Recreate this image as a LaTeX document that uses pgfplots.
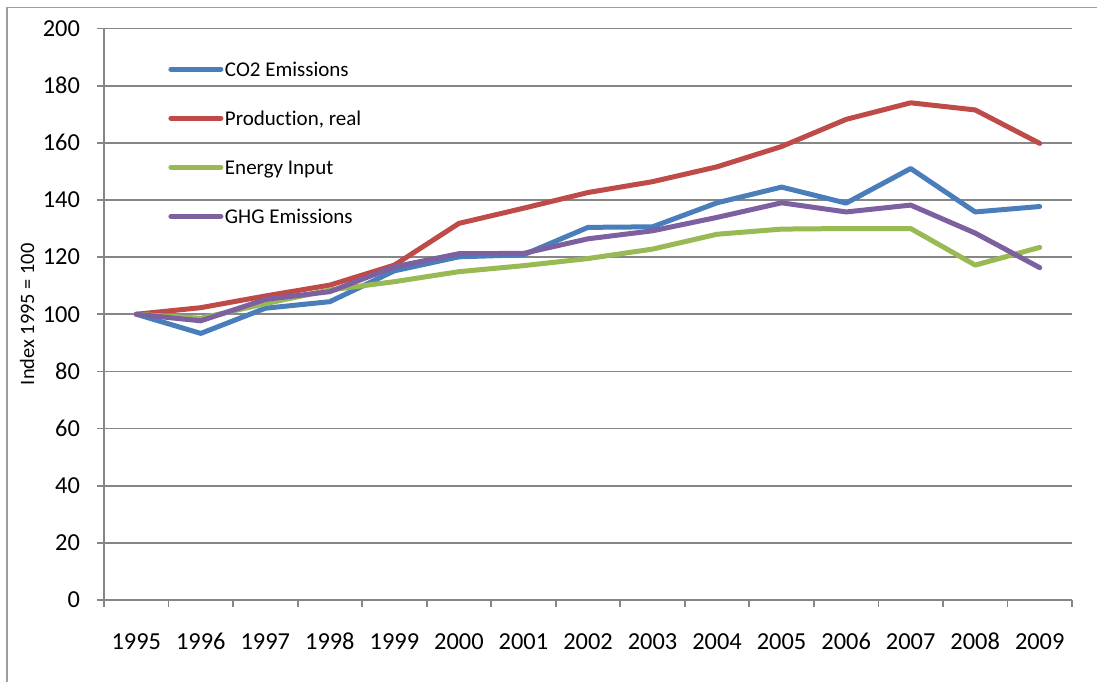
\documentclass[border=0pt]{standalone}
\usepackage{pgfplots}
\pgfplotsset{compat=1.18}
\usepackage{fontspec}
\setmainfont{Carlito}[Ligatures=NoCommon]

\definecolor{co2}{HTML}{4A7EBB}
\definecolor{prod}{HTML}{BE4B48}
\definecolor{energy}{HTML}{98B954}
\definecolor{ghg}{HTML}{7D60A0}
\definecolor{axgray}{HTML}{868686}

\begin{document}
\begin{tikzpicture}
  \begin{axis}[
      scale only axis,
      width=484pt, height=285.75pt,
      xmin=-0.5, xmax=14.5,
      ymin=0, ymax=200,
      axis x line=bottom, axis y line=left,
      axis line style={-, axgray, line width=0.9pt},
      xtick={0,...,14},
      xticklabels={1995,1996,1997,1998,1999,2000,2001,2002,2003,2004,2005,2006,2007,2008,2009},
      major x tick style={draw=none},
      minor xtick={-0.5,0.5,...,14.5},
      ytick={0,20,...,200},
      tick align=outside,
      major tick length=3.5pt, minor tick length=3.5pt,
      tick style={axgray, line width=0.9pt},
      ymajorgrids,
      grid style={axgray, line width=0.9pt},
      /pgf/number format/assume math mode=true,
      ticklabel style={font=\fontsize{12.2}{14}\selectfont},
      yticklabel style={xshift=-5pt},
      xticklabel style={yshift=-9.5pt, text height=8.2pt, text depth=0pt},
      ylabel={Index 1995 = 100},
      ylabel style={at={(axis description cs:0,0.5)}, anchor=center, yshift=38.5pt,
        font=\fontsize{10.2}{12}\selectfont},
      legend cell align=left,
      legend image code/.code={\draw[#1, line width=2.5pt, line cap=round] (0pt,1.5pt) -- (25pt,1.5pt);},
      legend style={draw=none, fill=none, at={(axis description cs:0,1)}, anchor=north west,
        xshift=32pt, yshift=-15.5pt, inner sep=0pt,
        font=\fontsize{10.5}{12}\selectfont, row sep=12.45pt,
        nodes={text height=7.5pt, text depth=3pt, inner sep=0.8pt}},
    ]
    \addplot[co2, line width=2.5pt, line cap=round, line join=round] coordinates {
        (0,100) (1,93.3) (2,102.1) (3,104.4) (4,115.2) (5,120.1) (6,120.8) (7,130.4)
        (8,130.6) (9,139) (10,144.5) (11,138.9) (12,151) (13,135.8) (14,137.7)
      };
    \addlegendentry{CO2 Emissions}
    \addplot[prod, line width=2.5pt, line cap=round, line join=round] coordinates {
        (0,100) (1,102.3) (2,106.4) (3,110.2) (4,117.2) (5,131.8) (6,137.1) (7,142.6)
        (8,146.4) (9,151.6) (10,158.7) (11,168.2) (12,174) (13,171.5) (14,159.8)
      };
    \addlegendentry{Production, real}
    \addplot[energy, line width=2.5pt, line cap=round, line join=round] coordinates {
        (0,100) (1,98.6) (2,103.7) (3,108.5) (4,111.4) (5,114.9) (6,117) (7,119.5)
        (8,122.8) (9,128) (10,129.8) (11,130) (12,130) (13,117.2) (14,123.4)
      };
    \addlegendentry{Energy Input}
    \addplot[ghg, line width=2.5pt, line cap=round, line join=round] coordinates {
        (0,100) (1,97.7) (2,105.2) (3,107.9) (4,116.6) (5,121.2) (6,121.3) (7,126.4)
        (8,129.2) (9,133.9) (10,139) (11,135.8) (12,138.2) (13,128.4) (14,116.3)
      };
    \addlegendentry{GHG Emissions}
  \end{axis}
  % outer chart frame, cut by the page edge at right and bottom
  \draw[axgray!80, line width=0.75pt]
    ([shift={(-48.5pt,-60pt)}]current axis.south west) |- ([shift={(520pt,296.25pt)}]current axis.south west);
  \pgfresetboundingbox
  \path[use as bounding box] ([shift={(-52pt,-40.5pt)}]current axis.south west)
    rectangle ([shift={(496.5pt,300pt)}]current axis.south west);
\end{tikzpicture}
\end{document}
